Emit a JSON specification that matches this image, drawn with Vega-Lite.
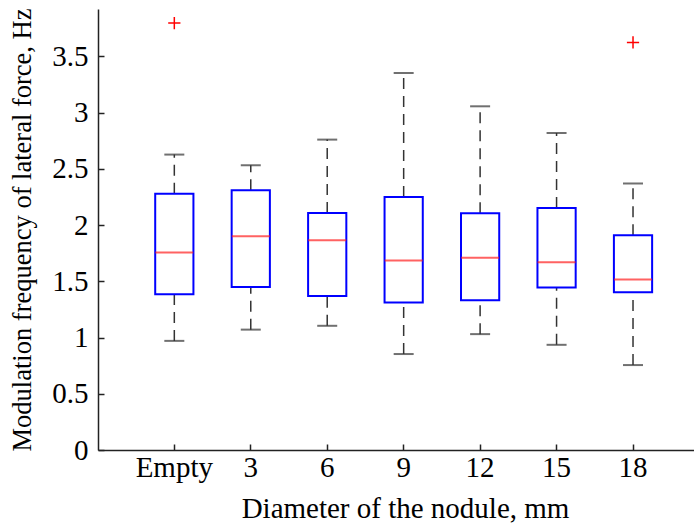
{
  "$schema": "https://vega.github.io/schema/vega-lite/v6.json",
  "width": 596,
  "height": 441,
  "autosize": {"type": "none"},
  "padding": {"left": 98, "top": 9, "right": 0, "bottom": 77},
  "background": "white",
  "config": {
    "view": {"stroke": null},
    "font": "Liberation Serif",
    "axis": {
      "domainColor": "#222222",
      "domainWidth": 1.5,
      "tickColor": "#222222",
      "tickWidth": 1.5,
      "tickSize": -6,
      "grid": false,
      "labelFont": "Liberation Serif",
      "labelColor": "#000000",
      "labelFontSize": 29,
      "titleFont": "Liberation Serif",
      "titleColor": "#000000",
      "titleFontWeight": "normal",
      "titleFontSize": 29
    }
  },
  "datasets": {
    "stats": [
      {"diameter": "Empty", "lower": 0.97, "q1": 1.384, "median": 1.756, "q3": 2.278, "upper": 2.626},
      {"diameter": "3", "lower": 1.07, "q1": 1.448, "median": 1.901, "q3": 2.309, "upper": 2.531},
      {"diameter": "6", "lower": 1.104, "q1": 1.37, "median": 1.865, "q3": 2.107, "upper": 2.759},
      {"diameter": "9", "lower": 0.853, "q1": 1.312, "median": 1.685, "q3": 2.25, "upper": 3.351},
      {"diameter": "12", "lower": 1.03, "q1": 1.332, "median": 1.708, "q3": 2.105, "upper": 3.055},
      {"diameter": "15", "lower": 0.935, "q1": 1.445, "median": 1.67, "q3": 2.152, "upper": 2.818},
      {"diameter": "18", "lower": 0.755, "q1": 1.403, "median": 1.516, "q3": 1.909, "upper": 2.369}
    ],
    "outliers": [
      {"diameter": "Empty", "value": 3.795},
      {"diameter": "18", "value": 3.623}
    ]
  },
  "encoding": {
    "x": {
      "field": "diameter",
      "type": "nominal",
      "sort": ["Empty", "3", "6", "9", "12", "15", "18"],
      "scale": {
        "type": "band",
        "domain": ["Empty", "3", "6", "9", "12", "15", "18"],
        "paddingInner": 0,
        "paddingOuter": 0.398,
        "align": 0.626
      },
      "axis": {
        "title": "Diameter of the nodule, mm",
        "labelAngle": 0,
        "bandPosition": 0.5,
        "labelPadding": 9,
        "labelFont": "Liberation Serif",
        "labelFontSize": 29,
        "titleFont": "Liberation Serif",
        "titleFontSize": 29,
        "titlePadding": 12,
        "titleX": 307,
        "titleAnchor": null,
        "titleAlign": "center"
      }
    }
  },
  "layer": [
    {
      "data": {"name": "stats"},
      "mark": {"type": "rule", "color": "#333333", "strokeWidth": 1.5, "strokeDash": [11, 7]},
      "encoding": {
        "y": {
          "field": "q3",
          "type": "quantitative",
          "scale": {"domain": [0, 3.92], "nice": false, "zero": false},
          "axis": {
            "title": "Modulation frequency of lateral force, Hz",
            "values": [0, 0.5, 1, 1.5, 2, 2.5, 3, 3.5],
            "format": "~g",
            "labelFont": "Liberation Serif",
            "labelFontSize": 29,
            "titleFont": "Liberation Serif",
            "titleFontSize": 26.5,
            "labelPadding": 16,
            "titlePadding": 15
          }
        },
        "y2": {"field": "upper"}
      }
    },
    {
      "data": {"name": "stats"},
      "mark": {"type": "rule", "color": "#333333", "strokeWidth": 1.5, "strokeDash": [11, 7]},
      "encoding": {
        "y": {"field": "lower", "type": "quantitative"},
        "y2": {"field": "q1"}
      }
    },
    {
      "data": {"name": "stats"},
      "mark": {"type": "tick", "orient": "horizontal", "color": "#333333", "size": 20, "thickness": 2},
      "encoding": {"y": {"field": "upper", "type": "quantitative"}}
    },
    {
      "data": {"name": "stats"},
      "mark": {"type": "tick", "orient": "horizontal", "color": "#333333", "size": 20, "thickness": 2},
      "encoding": {"y": {"field": "lower", "type": "quantitative"}}
    },
    {
      "data": {"name": "stats"},
      "mark": {"type": "bar", "fill": "white", "stroke": "#0000ff", "strokeWidth": 2, "width": {"band": 0.5}},
      "encoding": {
        "y": {"field": "q1", "type": "quantitative"},
        "y2": {"field": "q3"}
      }
    },
    {
      "data": {"name": "stats"},
      "mark": {"type": "tick", "orient": "horizontal", "color": "#ff2020", "size": 38, "thickness": 2},
      "encoding": {"y": {"field": "median", "type": "quantitative"}}
    },
    {
      "data": {"name": "outliers"},
      "mark": {"type": "point", "shape": "M-1,0L1,0M0,-1L0,1", "filled": false, "stroke": "#ff0000", "strokeWidth": 1.5, "size": 150, "opacity": 1},
      "encoding": {"y": {"field": "value", "type": "quantitative"}}
    }
  ]
}
